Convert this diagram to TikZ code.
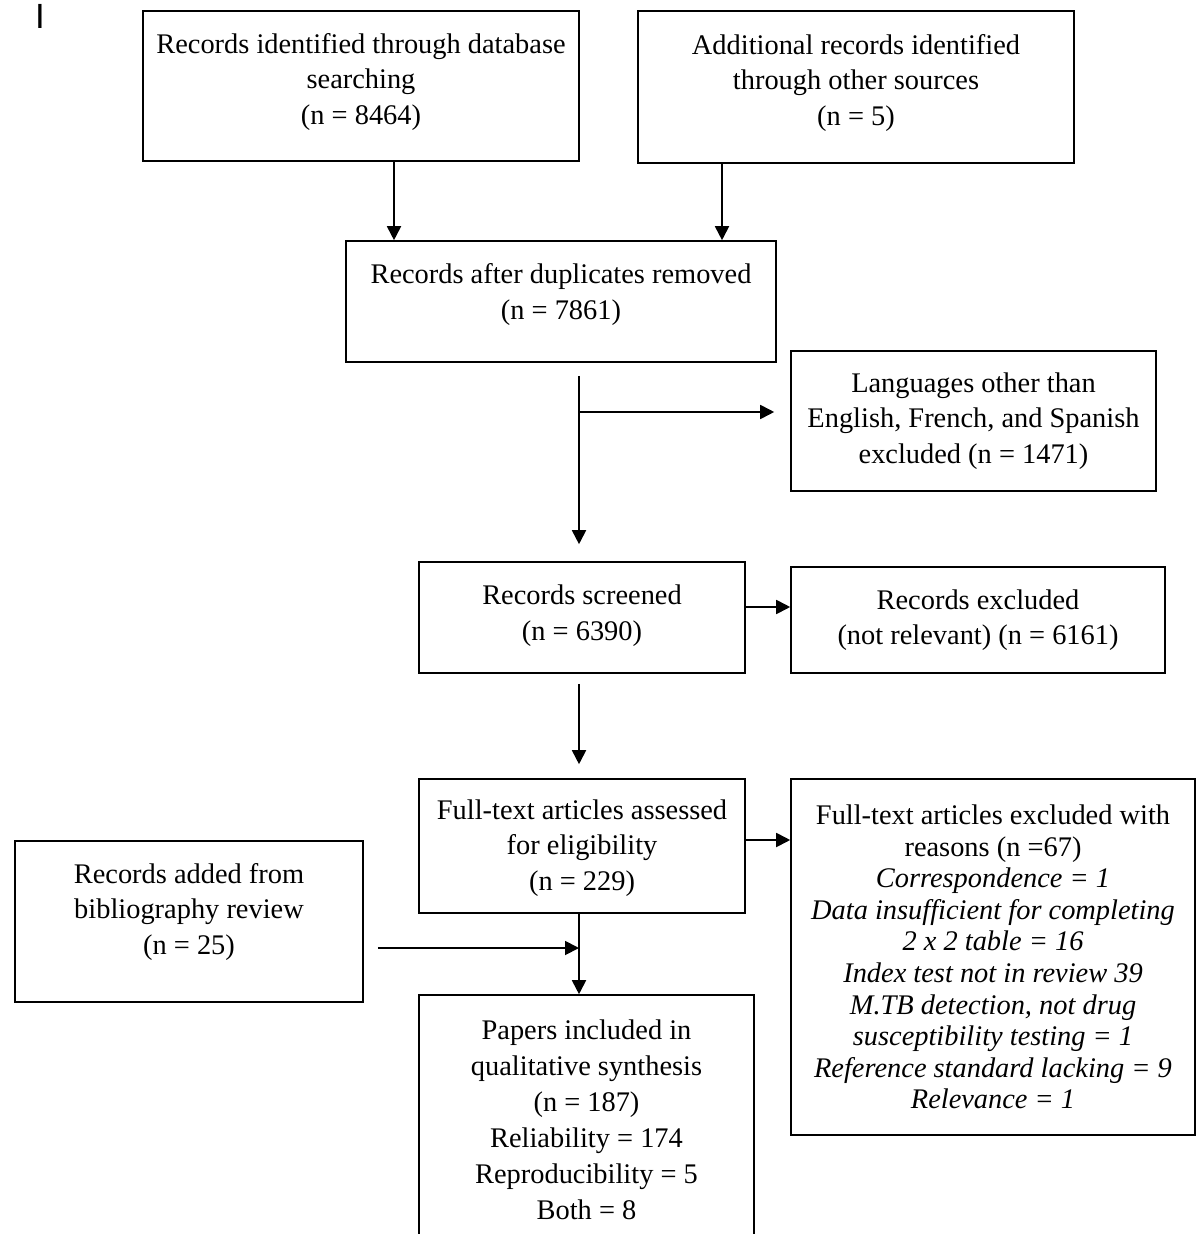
\documentclass[tikz,border=0pt]{standalone}
\usepackage{fontspec}
\setmainfont{Liberation Serif}
\setsansfont{Liberation Sans}
\usetikzlibrary{arrows.meta}
\tikzset{
  box/.style={rectangle, draw, line width=0.8pt, align=center, inner sep=0pt},
  arr/.style={-{Triangle[length=7pt,width=7pt]}, line width=0.9pt},
}
\begin{document}
\begin{tikzpicture}[x=0.5pt,y=-0.5pt,font=\fontsize{14.2}{17.75}\selectfont]
  \useasboundingbox (0,0) rectangle (1199,1234);
  % Nodes
  \node (mark) at (40,16) {\sffamily\fontsize{17.5}{17.5}\selectfont I};

  \node (db) at (361,86) [box, minimum width=218pt, minimum height=75pt, text depth=7pt]
    {Records identified through database\\searching\\(n = 8464)};
  \node (other) at (856,87) [box, minimum width=218pt, minimum height=76pt, text depth=7pt]
    {Additional records identified\\through other sources\\(n = 5)};
  \node (dup) at (561,301.5) [box, minimum width=215pt, minimum height=60.5pt, text depth=10pt]
    {Records after duplicates removed\\(n = 7861)};
  \node (lang) at (973.5,421) [box, minimum width=182.5pt, minimum height=70pt]
    {Languages other than\\English, French, and Spanish\\excluded (n = 1471)};
  \node (screened) at (582,617.5) [box, minimum width=163pt, minimum height=55.5pt, text depth=5pt]
    {Records screened\\(n = 6390)};
  \node (excl) at (978,620) [box, minimum width=187pt, minimum height=53pt]
    {Records excluded\\(not relevant) (n = 6161)};
  \node (full) at (582,846) [box, minimum width=163pt, minimum height=67pt, text depth=1pt]
    {Full-text articles assessed\\for eligibility\\(n = 229)};
  \node (fullexcl) at (993,957) [box, minimum width=202pt, minimum height=178pt,
      font=\fontsize{14.2}{15.8}\selectfont]
    {Full-text articles excluded with\\reasons (n =67)\\
     \textit{Correspondence = 1}\\
     \textit{Data insufficient for completing}\\
     \textit{2 x 2 table = 16}\\
     \textit{Index test not in review 39}\\
     \textit{M.TB detection, not drug}\\
     \textit{susceptibility testing = 1}\\
     \textit{Reference standard lacking = 9}\\
     \textit{Relevance = 1}};
  \node (bib) at (189,921.5) [box, minimum width=174pt, minimum height=80.5pt, text depth=13pt]
    {Records added from\\bibliography review\\(n = 25)};
  \node (papers) at (586.5,1120) [box, minimum width=167.5pt, minimum height=125pt,
      font=\fontsize{14.2}{18}\selectfont]
    {Papers included in\\qualitative synthesis\\(n = 187)\\Reliability = 174\\Reproducibility = 5\\Both = 8};

  \coordinate (split) at (579,412);

  % Edges
  \draw[arr] (db.south -| 394,0) -- (dup.north -| 394,0);
  \draw[arr] (other.south -| 722,0) -- (dup.north -| 722,0);
  \draw[arr] ([yshift=-6.5pt]dup.south -| split) -- ([yshift=8.5pt]screened.north -| split);
  \draw[arr] (split) -- ([xshift=-8pt]lang.west |- split);
  \draw[arr] ([yshift=-5pt]screened.south -| split) -- ([yshift=7pt]full.north -| split);
  \draw[arr] (screened.east |- 0,607) -- (excl.west |- 0,607);
  \draw[arr] (full.east |- 0,840) -- (fullexcl.west |- 0,840);
  \draw[arr] (full.south -| split) -- (papers.north -| split);
  \draw[arr] ([xshift=7pt]bib.east |- 0,948) -- (split |- 0,948);
\end{tikzpicture}
\end{document}
